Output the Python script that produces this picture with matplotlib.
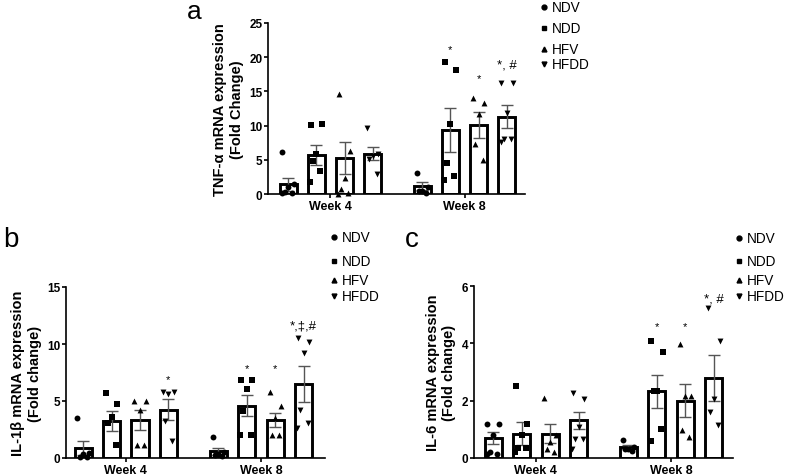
import numpy as np
import matplotlib
matplotlib.use('Agg')
import matplotlib.pyplot as plt
from matplotlib.lines import Line2D

plt.rcParams['font.family'] = ['Liberation Sans', 'DejaVu Sans']

groups = ['NDV', 'NDD', 'HFV', 'HFDD']
markers = ['o', 's', '^', 'v']
weeks = ['Week 4', 'Week 8']

# panel a - TNF-alpha
tnf_mean = [1.4, 5.75, 5.25, 5.85, 1.2, 9.4, 10.1, 11.3]
tnf_sem = [1.0, 1.45, 2.3, 0.95, 0.6, 3.2, 1.9, 1.7]
tnf_pts = [
    [6.1, 1.5, 1.0, 0.3, 0.2, 0.1],
    [10.1, 10.2, 5.8, 4.8, 3.4, 1.8],
    [14.6, 6.3, 2.4, 0.7, 0.2, 0.0],
    [9.6, 5.9, 5.6, 5.1, 2.9],
    [3.0, 1.0, 0.5, 0.5, 0.2],
    [19.3, 18.1, 10.2, 4.6, 2.7, 2.0],
    [14.0, 13.3, 11.7, 7.3, 4.9],
    [16.3, 16.3, 11.9, 8.0, 8.0, 7.6],
]
tnf_notes = ['', '', '', '', '', '*', '*', '*, #']
tnf_note_y = [0, 0, 0, 0, 0, 21.2, 17.0, 19.0]

# panel b - IL-1beta
il1_mean = [0.87, 3.23, 3.35, 4.25, 0.58, 4.6, 3.3, 6.5]
il1_sem = [0.6, 0.85, 0.9, 0.95, 0.3, 0.95, 0.62, 1.55]
il1_pts = [
    [3.5, 0.4, 0.35, 0.1, 0.05],
    [5.7, 4.7, 3.6, 3.1, 1.17],
    [5.0, 5.0, 4.25, 1.17, 1.17],
    [5.77, 5.77, 5.6, 3.23, 1.46],
    [1.83, 0.5, 0.38, 0.23, 0.15],
    [6.87, 6.87, 6.06, 4.08, 1.98, 1.98],
    [5.83, 4.54, 3.5, 1.98, 1.98],
    [10.5, 10.2, 9.2, 4.25, 3.06, 2.6],
]
il1_notes = ['', '', '', '*', '', '*', '*', '*,\u2021,#']
il1_note_y = [0, 0, 0, 6.9, 0, 7.9, 7.9, 11.6]

# panel c - IL-6
il6_mean = [0.7, 0.85, 0.85, 1.31, 0.38, 2.32, 2.0, 2.79]
il6_sem = [0.2, 0.4, 0.34, 0.29, 0.06, 0.58, 0.58, 0.8]
il6_pts = [
    [1.19, 1.19, 0.79, 0.2, 0.15, 0.15],
    [2.5, 1.2, 0.8, 0.35, 0.35, 0.2],
    [2.1, 0.79, 0.55, 0.3, 0.2],
    [2.27, 2.06, 1.08, 0.67, 0.67, 0.3],
    [0.64, 0.38, 0.32, 0.3, 0.25],
    [4.09, 3.7, 2.32, 2.32, 1.02, 0.61],
    [3.97, 2.18, 2.18, 0.98, 0.73],
    [5.25, 4.09, 2.06, 1.62, 1.14],
]
il6_notes = ['', '', '', '', '', '*', '*', '*, #']
il6_note_y = [0, 0, 0, 0, 0, 4.6, 4.6, 5.55]

xpos = [0, 1, 2, 3, 4.75, 5.75, 6.75, 7.75]
jitter = [-0.2, 0.2, 0.0, -0.12, 0.14, -0.22]


def panel(ax, mean, sem, pts, notes, note_y, ymax, ystep, ylabel, xlim):
    ax.bar(xpos, mean, width=0.6, color='white', edgecolor='black', linewidth=2.1, zorder=2)
    ax.errorbar(xpos, mean, yerr=sem, fmt='none', ecolor='#555555', elinewidth=1,
                capsize=4, capthick=1, zorder=3)
    for i, vals in enumerate(pts):
        xs = [xpos[i] + jitter[k % len(jitter)] for k in range(len(vals))]
        ax.scatter(xs, vals, marker=markers[i % 4], s=18, color='black', zorder=4,
                   clip_on=False, linewidths=0)
        if notes[i]:
            ax.text(xpos[i], note_y[i], notes[i], ha='center', va='center',
                    fontsize=9.5 if len(notes[i]) > 1 else 8, clip_on=False)
    ax.set_ylim(0, ymax)
    ax.set_xlim(*xlim)
    ax.set_yticks(np.arange(0, ymax + 0.01, ystep))
    ax.set_xticks([1.5, 6.25])
    ax.set_xticklabels(weeks, fontweight='bold', fontsize=9)
    for lab in ax.get_yticklabels():
        lab.set_fontweight('bold')
        lab.set_fontsize(8.5)
    ax.spines['top'].set_visible(False)
    ax.spines['right'].set_visible(False)
    ax.spines['left'].set_linewidth(1.2)
    ax.spines['bottom'].set_linewidth(1.2)
    ax.tick_params(axis='y', length=3, width=1.2, pad=1)
    ax.tick_params(axis='x', length=3, width=1.2, pad=1)
    ax.set_ylabel(ylabel, fontweight='bold', fontsize=10.5, labelpad=4)


def legend(fig, x, ys):
    W, H = 787, 477
    for lab, m, y in zip(groups, markers, ys):
        fig.add_artist(Line2D([x / W], [1 - y / H], marker=m, color='black',
                              markersize=3.5, linestyle='none', transform=fig.transFigure))
        fig.text((x + 8) / W, 1 - y / H, lab, ha='left', va='center', fontsize=9.8)


fig = plt.figure(figsize=(7.87, 4.77), dpi=100)
W, H = 787, 477

ax_a = fig.add_axes([268 / W, 1 - 195 / H, 257 / W, 171 / H])
panel(ax_a, tnf_mean, tnf_sem, tnf_pts, tnf_notes, tnf_note_y, 25, 5,
      'TNF-\u03b1 mRNA expression\n(Fold Change)', (-0.71, 8.39))

ax_b = fig.add_axes([66 / W, 1 - 459 / H, 259 / W, 171 / H])
panel(ax_b, il1_mean, il1_sem, il1_pts, il1_notes, il1_note_y, 15, 5,
      'IL-1\u03b2 mRNA expression\n(Fold change)', (-0.6, 8.5))

ax_c = fig.add_axes([474 / W, 1 - 459 / H, 259 / W, 172 / H])
panel(ax_c, il6_mean, il6_sem, il6_pts, il6_notes, il6_note_y, 6, 2,
      'IL-6 mRNA expression\n(Fold change)', (-0.67, 8.42))

legend(fig, 544, [8, 29, 50, 65])
legend(fig, 334, [238, 262, 281, 297])
legend(fig, 739, [239, 262, 281, 297])

fig.text(194 / W, 1 - 19 / H, 'a', fontsize=19, ha='center', va='baseline')
fig.text(11 / W, 1 - 247 / H, 'b', fontsize=20, ha='center', va='baseline')
fig.text(412 / W, 1 - 247 / H, 'c', fontsize=20, ha='center', va='baseline')

fig.savefig('out.png', dpi=100)
